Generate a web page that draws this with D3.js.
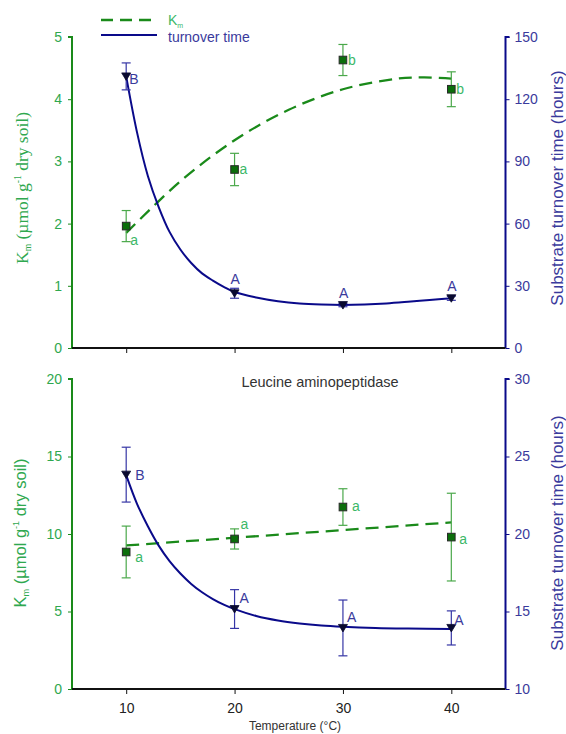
<!DOCTYPE html>
<html>
<head>
<meta charset="utf-8">
<script src="https://cdn.jsdelivr.net/npm/d3@7"></script>
<style>
  body { margin: 0; background: #fff; }
  svg { display: block; font-family: Arial, "Liberation Sans", sans-serif; }
</style>
</head>
<body>
<svg width="566" height="734"></svg>
<script>
"use strict";

// temperatures (x)
var temps = [10, 20, 30, 40];
var xTicks = [10, 20, 30, 40];

// top panel
var kmTop = [1.96, 2.87, 4.63, 4.16];
var kmTopErr = [0.25, 0.26, 0.25, 0.28];
var kmTopLetters = ["a", "a", "b", "b"];
var turnTop = [131, 26.4, 20.7, 24];
var turnTopErr = [6.5, 2.4, 0.8, 1];
var turnTopLetters = ["B", "A", "A", "A"];
var kmTopFitT = [10, 15, 20, 25, 30, 35, 37.5, 40];
var kmTopFit = [1.85, 2.68, 3.34, 3.83, 4.16, 4.33, 4.35, 4.33];
var turnTopFitT = [10, 11, 12, 13, 14, 15, 16, 17, 18, 19, 20, 22, 24, 26, 28, 30, 32, 34, 36, 38, 40];
var turnTopFit = [131, 104, 83, 68, 56, 47.5, 41, 36, 32.5, 29.5, 27, 24.4, 22.6, 21.5, 21, 20.8, 21, 21.5, 22.3, 23.2, 24];

// bottom panel (Leucine aminopeptidase)
var kmBot = [8.84, 9.68, 11.74, 9.8];
var kmBotErr = [1.67, 0.65, 1.18, 2.83];
var kmBotLetters = ["a", "a", "a", "a"];
var turnBot = [23.83, 15.16, 13.94, 13.94];
var turnBotErr = [1.77, 1.25, 1.8, 1.1];
var turnBotLetters = ["B", "A", "A", "A"];
var kmBotFitT = [10, 40];
var kmBotFit = [9.26, 10.75];
var turnBotFitT = [10, 11, 12, 13, 14, 15, 16, 17, 18, 19, 20, 22, 24, 26, 28, 30, 33, 36, 40];
var turnBotFit = [23.8, 21.95, 20.5, 19.25, 18.25, 17.45, 16.78, 16.24, 15.8, 15.44, 15.15, 14.71, 14.42, 14.23, 14.1, 14.02, 13.94, 13.9, 13.87];

var GREEN = "#1a8a1a", GREEN_TXT = "#2fa84f", GREEN_ERR = "#4aa84a", GREEN_LET = "#3cb868";
var NAVY = "#0a0a8a", BLUE_TXT = "#3a3a9c", BLUE_ERR = "#3535a5";

var svg = d3.select("svg");
var x = d3.scaleLinear().domain([5, 45]).range([72, 505.5]);

function zip(a, b) { return a.map(function (v, i) { return [v, b[i]]; }); }

function drawPanel(p) {
    var yL = d3.scaleLinear().domain(p.leftDomain).range([p.bottom, p.top]);
    var yR = d3.scaleLinear().domain(p.rightDomain).range([p.bottom, p.top]);
    var g = svg.append("g");

    // axes
    var la = g.append("g").attr("transform", "translate(72,0)")
        .call(d3.axisLeft(yL).tickValues(p.leftTicks).tickSize(4).tickPadding(6).tickFormat(d3.format("d")));
    la.select(".domain").attr("stroke", GREEN).attr("stroke-width", 2).attr("d", "M0," + p.bottom + "V" + p.top + "H-4");
    la.selectAll(".tick line").attr("stroke", GREEN);
    la.selectAll(".tick text").attr("fill", GREEN_TXT).attr("font-size", 14);

    var ra = g.append("g").attr("transform", "translate(505.5,0)")
        .call(d3.axisRight(yR).tickValues(p.rightTicks).tickSize(4).tickPadding(5).tickFormat(d3.format("d")));
    ra.select(".domain").attr("stroke", NAVY).attr("stroke-width", 2).attr("d", "M0," + p.bottom + "V" + p.top + "H4");
    ra.selectAll(".tick line").attr("stroke", NAVY);
    ra.selectAll(".tick text").attr("fill", BLUE_TXT).attr("font-size", 14);

    var xa = g.append("g").attr("transform", "translate(0," + p.bottom + ")")
        .call(d3.axisBottom(x).tickValues(xTicks).tickSize(5).tickPadding(9).tickFormat(p.xLabels ? d3.format("d") : ""));
    xa.select(".domain").attr("stroke", "#111").attr("stroke-width", 2).attr("d", "M72,0H505.5");
    xa.selectAll(".tick line").attr("stroke", "#111");
    xa.selectAll(".tick text").attr("fill", "#222").attr("font-size", 14);

    // fitted curves
    g.append("path").datum(zip(p.kmFitT, p.kmFit))
        .attr("fill", "none").attr("stroke", GREEN).attr("stroke-width", 2.3)
        .attr("stroke-dasharray", "13,7")
        .attr("d", d3.line().curve(d3.curveCatmullRom)
            .x(function (d) { return x(d[0]); }).y(function (d) { return yL(d[1]); }));
    g.append("path").datum(zip(p.turnFitT, p.turnFit))
        .attr("fill", "none").attr("stroke", NAVY).attr("stroke-width", 2)
        .attr("d", d3.line().curve(d3.curveCatmullRom)
            .x(function (d) { return x(d[0]); }).y(function (d) { return yR(d[1]); }));

    // error bars
    function errBars(vals, errs, y, color) {
        var eg = g.append("g").attr("stroke", color).attr("stroke-width", 1.2).attr("fill", "none");
        temps.forEach(function (t, i) {
            var cx = x(t), y1 = y(vals[i] + errs[i]), y2 = y(vals[i] - errs[i]);
            eg.append("line").attr("x1", cx).attr("x2", cx).attr("y1", y1).attr("y2", y2);
            eg.append("line").attr("x1", cx - 4.5).attr("x2", cx + 4.5).attr("y1", y1).attr("y2", y1);
            eg.append("line").attr("x1", cx - 4.5).attr("x2", cx + 4.5).attr("y1", y2).attr("y2", y2);
        });
    }
    errBars(p.km, p.kmErr, yL, GREEN_ERR);
    errBars(p.turn, p.turnErr, yR, BLUE_ERR);

    // markers
    g.selectAll(".tri").data(p.turn).enter().append("path")
        .attr("d", "M-4.5,-3.5L4.5,-3.5L0,4Z")
        .attr("transform", function (d, i) { return "translate(" + x(temps[i]) + "," + yR(d) + ")"; })
        .attr("fill", "#0a0a30").attr("stroke", "#0a0a30").attr("stroke-width", 0.8);
    g.selectAll(".sq").data(p.km).enter().append("rect")
        .attr("x", function (d, i) { return x(temps[i]) - 3.8; })
        .attr("y", function (d) { return yL(d) - 3.8; })
        .attr("width", 7.6).attr("height", 7.6)
        .attr("fill", "#0b6e0b").attr("stroke", "#2a2a2a").attr("stroke-width", 1);

    // significance letters
    g.selectAll(".kl").data(p.km).enter().append("text")
        .attr("x", function (d, i) { return x(temps[i]) + p.kmLetOff[i][0]; })
        .attr("y", function (d, i) { return yL(d) + p.kmLetOff[i][1]; })
        .attr("fill", GREEN_LET).attr("font-size", 14)
        .text(function (d, i) { return p.kmLetters[i]; });
    g.selectAll(".tl").data(p.turn).enter().append("text")
        .attr("x", function (d, i) { return x(temps[i]) + p.turnLetOff[i][0]; })
        .attr("y", function (d, i) { return yR(d) + p.turnLetOff[i][1]; })
        .attr("fill", BLUE_TXT).attr("font-size", 14)
        .text(function (d, i) { return p.turnLetters[i]; });

    // axis titles
    var lt = g.append("text")
        .attr("transform", "translate(" + p.leftTitleX + "," + p.midY + ") rotate(-90)")
        .attr("text-anchor", "middle").attr("fill", GREEN_TXT)
        .attr("font-size", p.leftTitleSize).attr("font-family", p.leftTitleFont);
    lt.append("tspan").text("K");
    lt.append("tspan").attr("font-size", p.leftTitleSize * 0.55).attr("dy", 3).text("m");
    lt.append("tspan").attr("dy", -3).text(" (\u00b5mol g");
    lt.append("tspan").attr("font-size", p.leftTitleSize * 0.55).attr("dy", -7).text("-1");
    lt.append("tspan").attr("dy", 7).text(" dry soil)");

    g.append("text")
        .attr("transform", "translate(557," + p.midY + ") rotate(-90)")
        .attr("text-anchor", "middle").attr("dy", "0.35em").attr("fill", BLUE_TXT)
        .attr("font-size", 17)
        .text("Substrate turnover time (hours)");
}

drawPanel({
    top: 37, bottom: 348, midY: 188,
    leftDomain: [0, 5], leftTicks: [0, 1, 2, 3, 4, 5],
    rightDomain: [0, 150], rightTicks: [0, 30, 60, 90, 120, 150],
    xLabels: false,
    km: kmTop, kmErr: kmTopErr, kmLetters: kmTopLetters,
    turn: turnTop, turnErr: turnTopErr, turnLetters: turnTopLetters,
    kmFitT: kmTopFitT, kmFit: kmTopFit, turnFitT: turnTopFitT, turnFit: turnTopFit,
    kmLetOff: [[4, 19], [5, 5], [5, 5], [5, 5]],
    turnLetOff: [[3, 8], [-4, -9], [-4, -7], [-4, -7]],
    leftTitleX: 28, leftTitleSize: 17.5, leftTitleFont: "'Liberation Serif', 'DejaVu Serif', serif"
});

drawPanel({
    top: 379, bottom: 689, midY: 533,
    leftDomain: [0, 20], leftTicks: [0, 5, 10, 15, 20],
    rightDomain: [10, 30], rightTicks: [10, 15, 20, 25, 30],
    xLabels: true,
    km: kmBot, kmErr: kmBotErr, kmLetters: kmBotLetters,
    turn: turnBot, turnErr: turnBotErr, turnLetters: turnBotLetters,
    kmFitT: kmBotFitT, kmFit: kmBotFit, turnFitT: turnBotFitT, turnFit: turnBotFit,
    kmLetOff: [[9, 10], [6, -10], [9, 4], [8, 7]],
    turnLetOff: [[9, 5], [5, -6], [4, -6], [3, -3]],
    leftTitleX: 26, leftTitleSize: 16.5, leftTitleFont: "Arial, 'Liberation Sans', sans-serif"
});

// panel title and x title
svg.append("text").attr("x", 320).attr("y", 387).attr("text-anchor", "middle")
    .attr("fill", "#333").attr("font-size", 14.5).text("Leucine aminopeptidase");
svg.append("text").attr("x", 295).attr("y", 730).attr("text-anchor", "middle")
    .attr("fill", "#333").attr("font-size", 12).text("Temperature (\u00b0C)");

// legend
var lg = svg.append("g");
lg.append("line").attr("x1", 101).attr("x2", 151).attr("y1", 20).attr("y2", 20)
    .attr("stroke", GREEN).attr("stroke-width", 2.3).attr("stroke-dasharray", "12,7");
lg.append("line").attr("x1", 101).attr("x2", 157).attr("y1", 35).attr("y2", 35)
    .attr("stroke", NAVY).attr("stroke-width", 2);
var lk = lg.append("text").attr("x", 168).attr("y", 25).attr("fill", GREEN_LET).attr("font-size", 14);
lk.append("tspan").text("K");
lk.append("tspan").attr("font-size", 7).attr("dy", 3).text("m");
lg.append("text").attr("x", 168).attr("y", 42).attr("fill", BLUE_TXT).attr("font-size", 14).text("turnover time");
</script>
</body>
</html>
